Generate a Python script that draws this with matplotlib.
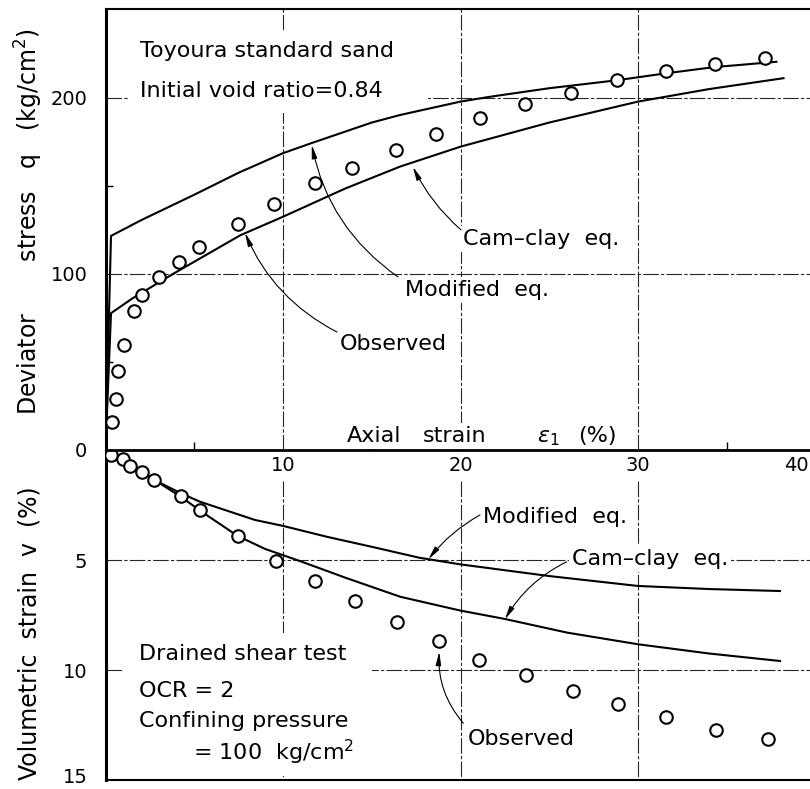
import matplotlib.pyplot as plt
import matplotlib.transforms as mtransforms
from matplotlib.patches import Rectangle

# ---- data ----
# upper panel: deviator stress q (kg/cm2) vs axial strain (%)
obs_eps_q = [0.38, 0.57, 0.72, 1.03, 1.61, 2.04, 3.03, 4.16, 5.25, 7.45, 9.51, 11.8,
             13.9, 16.35, 18.62, 21.1, 23.65, 26.2, 28.8, 31.56, 34.34, 37.17]
obs_q = [15.7, 29.0, 45.0, 59.7, 79.1, 88.3, 98.1, 107.0, 115.2, 128.4, 139.8, 151.5,
         160.4, 170.5, 179.5, 188.8, 196.4, 203.0, 210.2, 215.3, 219.1, 222.6]

mod_eps_q = [0, 0.31, 2, 5, 7.5, 10, 11.6, 15, 16.6, 20, 21.7, 25, 28.8, 31.6, 34.3, 37.8]
mod_q = [0, 121.6, 130.5, 145, 157.5, 168.6, 174.3, 186, 190.3, 197.9, 200.7, 205.5,
         210, 214, 217.5, 220.5]

cam_eps_q = [0, 0.31, 1.5, 3.8, 7.6, 10, 13.5, 16.6, 20, 25, 30, 34, 38.2]
cam_q = [0, 77.7, 86, 100, 122, 132.5, 148.5, 161, 172.3, 186, 197.9, 205, 211.2]

# lower panel: volumetric strain v (%) vs axial strain (%)
obs_eps_v = [0.31, 1.0, 1.38, 2.04, 2.75, 4.25, 5.32, 7.48, 9.6, 11.8, 14.07, 16.4,
             18.8, 21.04, 23.7, 26.35, 28.9, 31.6, 34.4, 37.3]
obs_v = [0.23, 0.42, 0.71, 0.99, 1.36, 2.09, 2.73, 3.91, 5.05, 5.94, 6.86, 7.82,
         8.68, 9.55, 10.23, 10.95, 11.56, 12.12, 12.73, 13.15]

mod_eps_v = [0, 0.35, 1.0, 1.4, 2.04, 2.75, 4.2, 5.32, 8.42, 10, 12.5, 15, 17.7, 20,
             25, 30, 34, 38]
mod_v = [0, 0.2, 0.42, 0.66, 0.95, 1.36, 1.95, 2.35, 3.18, 3.45, 3.95, 4.4, 4.9, 5.2,
         5.73, 6.18, 6.32, 6.41]

cam_eps_v = [0, 0.35, 1.0, 1.4, 2.04, 2.75, 4.2, 5.28, 7.45, 9.0, 10.96, 13.5, 16.6,
             20, 22.5, 26, 30, 34, 38]
cam_v = [0, 0.2, 0.42, 0.66, 0.95, 1.36, 2.1, 2.73, 3.91, 4.5, 5.05, 5.8, 6.67,
         7.3, 7.68, 8.3, 8.83, 9.25, 9.59]

x_ticks = [10, 20, 30]
x_minor = [5, 15, 25, 35]
q_ticks = [0, 100, 200]
q_minor = [50, 150]
v_ticks = [5, 10, 15]

# ---- figure ----
fig = plt.figure(figsize=(8.1, 7.89), dpi=100)
ax2 = fig.add_axes([0.13025, 0.011407, 0.87654, 0.41825])
ax1 = fig.add_axes([0.13025, 0.42966, 0.87654, 0.55894])
for ax in (ax1, ax2):
    ax.patch.set_alpha(0)
    ax.set_xlim(0, 40)
    ax.spines['right'].set_visible(False)
ax1.set_ylim(0, 250.5)
ax2.set_ylim(15, 0)

ax1.spines['top'].set_linewidth(1.5)
ax1.spines['left'].set_linewidth(2.2)
ax1.spines['bottom'].set_linewidth(2.0)
ax2.spines['top'].set_visible(False)
ax2.spines['left'].set_linewidth(2.2)
ax2.spines['bottom'].set_linewidth(1.5)

gkw = dict(colors='0.15', lw=0.8, linestyles=(0, (14, 2, 3, 2)), zorder=1)
ax1.vlines(x_ticks, 0, 250.5, **gkw)
ax2.vlines(x_ticks, 1.4, 15, **gkw)
ax1.hlines(q_ticks[1:], 0, 40, **gkw)
ax2.hlines(v_ticks[:2], 0, 40, **gkw)

# ticks
ax1.set_yticks(q_ticks)
ax1.set_yticks(q_minor, minor=True)
ax1.set_xticks(x_ticks)
ax1.set_xticks(x_minor, minor=True)
ax1.tick_params(axis='y', which='major', length=0, pad=13, labelsize=14)
ax1.tick_params(axis='y', which='minor', direction='in', length=5, width=1)
ax1.tick_params(axis='x', which='major', length=0, pad=4, labelsize=14)
ax1.tick_params(axis='x', which='minor', direction='in', length=6, width=1)
ax2.set_yticks(v_ticks)
ax2.tick_params(axis='y', which='major', length=0, pad=13, labelsize=14)
ax2.set_xticks([])
# the last labels sit on the figure edges, as in the original print
last = ax2.get_yticklabels()[-1]
last.set_transform(last.get_transform() +
                   mtransforms.ScaledTranslation(0, 3 / 72, fig.dpi_scale_trans))
ax2.text(38.95, 0.25, '40', fontsize=14, ha='center', va='top')

# curves
lkw = dict(color='black', lw=1.5, zorder=3)
ax1.plot(mod_eps_q, mod_q, **lkw)
ax1.plot(cam_eps_q, cam_q, **lkw)
ax2.plot(mod_eps_v, mod_v, **lkw)
ax2.plot(cam_eps_v, cam_v, **lkw)
mkw = dict(ls='none', marker='o', ms=9, mfc='white', mec='black', mew=1.5, zorder=4)
ax1.plot(obs_eps_q, obs_q, **mkw)
ax2.plot(obs_eps_v, obs_v, **mkw)

# text
box = dict(facecolor='white', edgecolor='none', pad=2)
tkw = dict(fontsize=16, va='baseline', ha='left', zorder=2, bbox=box)

ax1.add_patch(Rectangle((1.27, 191.5), 16.9, 47.1, facecolor='white', edgecolor='none', zorder=1.5))
ax1.text(1.94, 223.3, 'Toyoura standard sand', fontsize=16, va='baseline', zorder=2)
ax1.text(1.94, 200.6, 'Initial void ratio=0.84', fontsize=16, va='baseline', zorder=2)

ax1.text(20.14, 116.5, 'Cam–clay  eq.', **tkw)
ax1.text(16.87, 87.5, 'Modified  eq.', **tkw)
ax1.text(13.21, 56.8, 'Observed', **tkw)

ax1.text(13.6, 4.5, 'Axial', **tkw)
ax1.text(17.89, 4.5, 'strain', **tkw)
ax1.text(24.31, 4.5, r'$\varepsilon_1$', **tkw)
ax1.text(26.62, 4.5, '(%)', **tkw)

ax2.text(21.27, 3.32, 'Modified  eq.', **tkw)
ax2.text(26.28, 5.23, 'Cam–clay  eq.', **tkw)
ax2.text(20.42, 13.4, 'Observed', **tkw)

ax2.add_patch(Rectangle((1.0, 8.3), 14.0, 6.5, facecolor='white', edgecolor='none', zorder=1.5))
ax2.text(1.89, 9.55, 'Drained shear test', fontsize=16, va='baseline', zorder=2)
ax2.text(1.89, 11.23, 'OCR = 2', fontsize=16, va='baseline', zorder=2)
ax2.text(1.89, 12.6, 'Confining pressure', fontsize=16, va='baseline', zorder=2)
ax2.text(4.93, 14.09, '= 100  kg/cm$^2$', fontsize=16, va='baseline', zorder=2)

# arrows
def arrow(ax, start, tip, rad):
    ax.annotate('', xy=tip, xytext=start, zorder=3,
                arrowprops=dict(arrowstyle='-|>,head_length=0.8,head_width=0.16',
                                lw=0.8, color='black', shrinkA=0, shrinkB=0,
                                connectionstyle='arc3,rad=%s' % rad))

arrow(ax1, (20.03, 125), (17.32, 160.8), -0.1)
arrow(ax1, (16.48, 98.3), (11.62, 173.3), -0.2)
arrow(ax1, (13.04, 67), (7.86, 123.3), -0.18)
arrow(ax2, (21.1, 2.95), (18.19, 4.97), 0.1)
arrow(ax2, (25.98, 5.08), (22.5, 7.7), 0.15)
arrow(ax2, (20.16, 12.42), (18.8, 9.17), -0.2)

# axis labels
fig.text(0.036, 0.7186, 'Deviator       stress   q   (kg/cm$^2$)', rotation=90,
         fontsize=17, ha='center', va='center')
fig.text(0.036, 0.1977, 'Volumetric  strain  v  (%)', rotation=90,
         fontsize=17, ha='center', va='center')

fig.savefig('out.png', dpi=100, facecolor='white')
